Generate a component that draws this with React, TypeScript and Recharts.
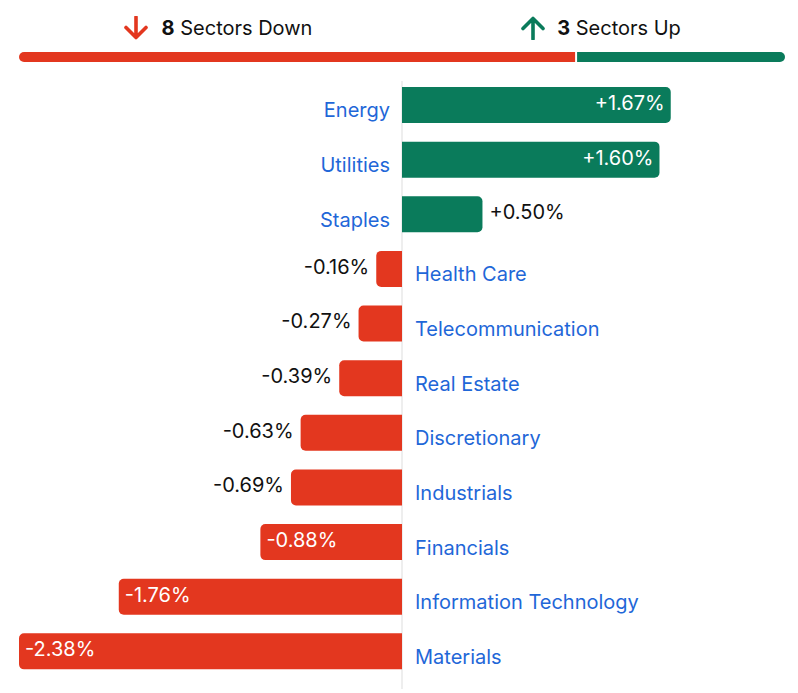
import React from "react";
import { BarChart, Bar, XAxis, YAxis, Cell, LabelList, ReferenceLine, Rectangle } from "recharts";

const sectors = [
  "Energy",
  "Utilities",
  "Staples",
  "Health Care",
  "Telecommunication",
  "Real Estate",
  "Discretionary",
  "Industrials",
  "Financials",
  "Information Technology",
  "Materials",
];
const changes = [1.67, 1.6, 0.5, -0.16, -0.27, -0.39, -0.63, -0.69, -0.88, -1.76, -2.38];

const downCount = changes.filter((v) => v < 0).length;
const upCount = changes.filter((v) => v > 0).length;

const RED = "#E3371F";
const GREEN = "#0A7B5B";
const BLUE = "#1F67D8";
const FONT = "Inter, 'Noto Sans', sans-serif";
const FS = 20;

const data = sectors.map((name, i) => ({ name, value: changes[i] }));
const summary = [{ name: "summary", down: downCount, up: upCount }];

const fmt = (v: number) => (v > 0 ? "+" : "") + v.toFixed(2) + "%";

const box = (p: any) => {
  const vb = p.viewBox || {};
  const x = p.x ?? vb.x;
  const y = p.y ?? vb.y;
  const w = p.width ?? vb.width;
  const h = p.height ?? vb.height;
  return { x: +x, y: +y, w: +w, h: +h };
};

const NameLabel = (p: any) => {
  const { x, y, w, h } = box(p);
  const v = changes[p.index];
  const left = Math.min(x, x + w);
  const right = Math.max(x, x + w);
  const cy = y + h / 2 + 7;
  if (v >= 0) {
    return (
      <text x={left - 12} y={cy} textAnchor="end" dominantBaseline="middle" fill={BLUE} fontSize={FS} fontFamily={FONT}>
        {p.value}
      </text>
    );
  }
  return (
    <text x={right + 13} y={cy} textAnchor="start" dominantBaseline="middle" fill={BLUE} fontSize={FS} fontFamily={FONT}>
      {p.value}
    </text>
  );
};

const ValueLabel = (p: any) => {
  const { x, y, w, h } = box(p);
  const v = changes[p.index];
  const left = Math.min(x, x + w);
  const right = Math.max(x, x + w);
  const bw = right - left;
  const cy = y + h / 2 - 0.5;
  const inside = bw > 120;
  const txt = fmt(v);
  if (v >= 0) {
    return inside ? (
      <text x={right - 6} y={cy} textAnchor="end" dominantBaseline="middle" fill="#fff" fontSize={FS} fontFamily={FONT}>
        {txt}
      </text>
    ) : (
      <text x={right + 7} y={cy} textAnchor="start" dominantBaseline="middle" fill="#111" fontSize={FS} fontFamily={FONT}>
        {txt}
      </text>
    );
  }
  return inside ? (
    <text x={left + 6} y={cy} textAnchor="start" dominantBaseline="middle" fill="#fff" fontSize={FS} fontFamily={FONT}>
      {txt}
    </text>
  ) : (
    <text x={left - 7} y={cy} textAnchor="end" dominantBaseline="middle" fill="#111" fontSize={FS} fontFamily={FONT}>
      {txt}
    </text>
  );
};

const DownArrow = () => (
  <svg width={26} height={24} viewBox="0 0 26 24" style={{ marginRight: 13 }}>
    <path d="M13 1 V21 M3 11.5 L13 21.5 L23 11.5" fill="none" stroke={RED} strokeWidth={3.6} strokeLinecap="round" strokeLinejoin="round" />
  </svg>
);
const UpArrow = () => (
  <svg width={26} height={24} viewBox="0 0 26 24" style={{ marginRight: 11 }}>
    <path d="M13 23 V3 M3 12.5 L13 2.5 L23 12.5" fill="none" stroke={GREEN} strokeWidth={3.6} strokeLinecap="round" strokeLinejoin="round" />
  </svg>
);

export default function App() {
  return (
    <div style={{ position: "absolute", left: 0, top: 0, width: 798, height: 693, background: "#fff", fontFamily: FONT }}>
      <div style={{ position: "absolute", left: 19, top: 16, width: 766, display: "flex" }}>
        <div style={{ flex: 1, display: "flex", justifyContent: "center", alignItems: "center", paddingLeft: 14, color: "#111", fontSize: FS }}>
          <DownArrow />
          <span>
            <b style={{ fontWeight: 700 }}>{downCount}</b> Sectors Down
          </span>
        </div>
        <div style={{ flex: 1, display: "flex", justifyContent: "center", alignItems: "center", paddingLeft: 14, color: "#111", fontSize: FS }}>
          <UpArrow />
          <span>
            <b style={{ fontWeight: 700 }}>{upCount}</b> Sectors Up
          </span>
        </div>
      </div>
      <div style={{ position: "absolute", left: 19, top: 52 }}>
        <BarChart width={766} height={10} layout="vertical" data={summary} margin={{ top: 0, right: 0, bottom: 0, left: 0 }} barCategoryGap={0}>
          <XAxis type="number" hide domain={[0, downCount + upCount]} />
          <YAxis type="category" dataKey="name" hide />
          <Bar
            dataKey="down"
            stackId="s"
            fill={RED}
            isAnimationActive={false}
            shape={(p: any) => <Rectangle {...p} width={p.width - 1} radius={[5, 0, 0, 5]} />}
          />
          <Bar
            dataKey="up"
            stackId="s"
            fill={GREEN}
            isAnimationActive={false}
            shape={(p: any) => <Rectangle {...p} x={p.x + 1} width={p.width - 1} radius={[0, 5, 5, 0]} />}
          />
        </BarChart>
      </div>
      <div style={{ position: "absolute", left: 0, top: 0 }}>
        <BarChart
          width={798}
          height={693}
          layout="vertical"
          data={data}
          margin={{ top: 81, right: 13, bottom: 4, left: 19 }}
        >
          <XAxis type="number" hide domain={[-2.38, 2.38]} allowDataOverflow />
          <YAxis type="category" dataKey="name" hide />
          <Bar dataKey="value" fill="none" fillOpacity={0} isAnimationActive={false} />
          <ReferenceLine x={0} stroke="#DDDDDD" strokeWidth={1} />
        </BarChart>
      </div>
      <div style={{ position: "absolute", left: 0, top: 0 }}>
        <BarChart
          width={798}
          height={693}
          layout="vertical"
          data={data}
          margin={{ top: 78, right: 13, bottom: 14, left: 19 }}
          barSize={36}
        >
          <XAxis type="number" hide domain={[-2.38, 2.38]} />
          <YAxis type="category" dataKey="name" hide />
          <Bar dataKey="value" isAnimationActive={false} radius={[0, 5, 5, 0]}>
            {data.map((d, i) => (
              <Cell key={i} fill={d.value >= 0 ? GREEN : RED} />
            ))}
            <LabelList dataKey="name" content={NameLabel} />
            <LabelList dataKey="value" content={ValueLabel} />
          </Bar>
        </BarChart>
      </div>
    </div>
  );
}
